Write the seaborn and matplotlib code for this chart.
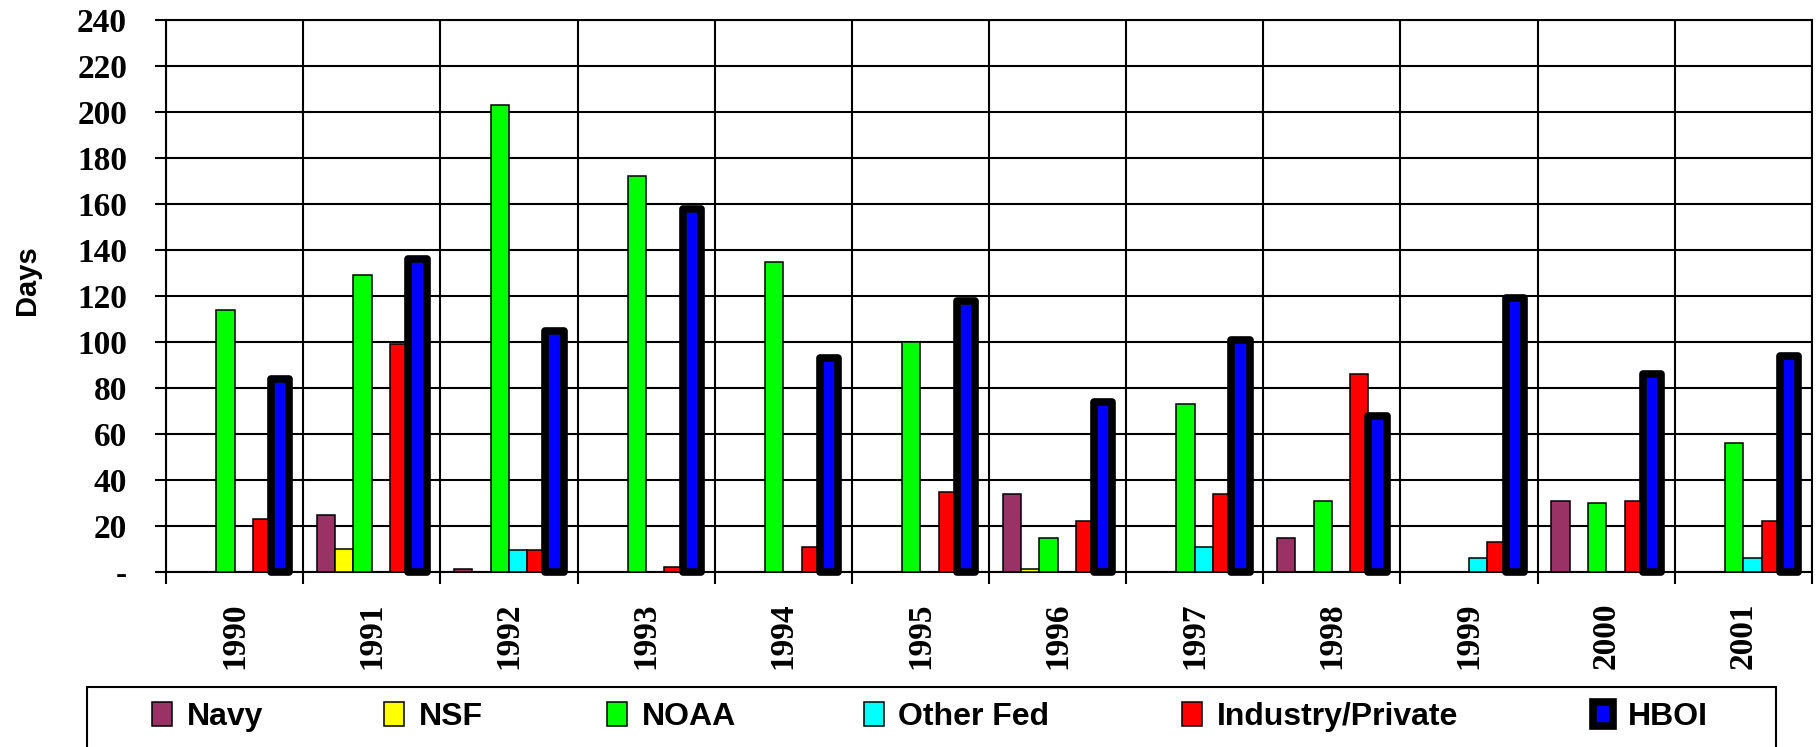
import pandas as pd
import matplotlib
matplotlib.use("Agg")
import matplotlib.pyplot as plt
import matplotlib.patches as mpatches
import seaborn as sns

# ==================================
# DATA
# ==================================

years = ["1990", "1991", "1992", "1993", "1994", "1995",
         "1996", "1997", "1998", "1999", "2000", "2001"]

navy = [0, 25, 1.5, 0, 0, 0, 34, 0, 15, 0, 31, 0]
nsf = [0, 10, 0, 0, 0, 0, 1.5, 0, 0, 0, 0, 0]
noaa = [114, 129, 203, 172, 135, 100, 15, 73, 31, 0, 30, 56]
other_fed = [0, 0, 9.5, 0, 0, 0, 0, 11, 0, 6, 0, 6]
industry = [23, 99, 9.5, 2, 11, 35, 22, 34, 86, 13, 31, 22]
hboi = [84, 136, 105, 158, 93, 118, 74, 101, 68, 119, 86, 94]

sponsors = ["Navy", "NSF", "NOAA", "Other Fed", "Industry/Private", "HBOI"]
colors = ["#993366", "#FFFF00", "#00FF00", "#00FFFF", "#FF0000", "#0000FF"]

y_ticks = [0, 20, 40, 60, 80, 100, 120, 140, 160, 180, 200, 220, 240]
y_tick_labels = ["-", "20", "40", "60", "80", "100", "120", "140",
                 "160", "180", "200", "220", "240"]

rows = []
for name, vals in zip(sponsors, [navy, nsf, noaa, other_fed, industry, hboi]):
    for yr, v in zip(years, vals):
        rows.append({"Year": yr, "Sponsor": name, "Days": v})
df = pd.DataFrame(rows)

# ==================================
# PLOT
# ==================================

sns.set_style("white", rc={"text.color": "black", "axes.labelcolor": "black",
                           "xtick.color": "black", "ytick.color": "black"})

W, H = 1816, 747
fig = plt.figure(figsize=(W / 100, H / 100), dpi=100)
ax = fig.add_axes([166 / W, (H - 572) / H, (1812 - 166) / W, (572 - 20) / H])

sns.barplot(
    data=df, x="Year", y="Days", hue="Sponsor",
    order=years, hue_order=sponsors, palette=colors, saturation=1,
    edgecolor="black", linewidth=1.1, width=0.8,
    legend=False, ax=ax, errorbar=None, zorder=3
)

# thick outline for HBOI bars
for bar in ax.containers[5].patches:
    bar.set_linewidth(5.5)
    bar.set_joinstyle("round")
    bar.set_clip_on(False)

ax.set_xlim(-0.5, 11.5)
ax.set_ylim(0, 240)

ax.set_yticks(y_ticks, y_tick_labels)
ax.set_xticks(range(len(years)), years, rotation=90)
ax.set_xticks([i + 0.5 for i in range(-1, len(years))], minor=True)

ax.grid(False)
ax.yaxis.grid(True, color="black", linewidth=1.5, zorder=0)
ax.xaxis.grid(True, which="minor", color="black", linewidth=1.5, zorder=0)
ax.set_axisbelow(True)

ax.tick_params(axis="x", which="major", length=0, pad=22)
ax.tick_params(axis="x", which="minor", length=8.5, width=1.5,
               direction="out", bottom=True)
ax.tick_params(axis="y", length=8, width=1.5,
               direction="out", left=True, pad=20)

for lab in ax.get_yticklabels() + ax.get_xticklabels():
    lab.set_fontfamily("Liberation Serif")
    lab.set_fontweight("bold")
    lab.set_fontsize(24)

for s in ax.spines.values():
    s.set_color("black")
    s.set_linewidth(1.5)

ax.set_xlabel("")
ax.set_ylabel("")
fig.text(27 / W, (H - 280) / H, "Days", rotation=90, ha="center", va="center",
         fontsize=21, fontweight="bold", fontfamily="Liberation Sans")

# legend box at the bottom
frame = mpatches.Rectangle((87 / W, -0.05), (1776 - 87) / W, (H - 687) / H + 0.05,
                           transform=fig.transFigure, facecolor="white",
                           edgecolor="black", linewidth=1.5)
fig.patches.append(frame)

legend_x = [152, 384, 607, 864, 1182, 1593]
handles = [c.patches[0] for c in ax.containers]
for h, name, lx in zip(handles, sponsors, legend_x):
    fig.legend([h], [name], loc="center left",
               bbox_to_anchor=(lx / W, (H - 717) / H),
               frameon=False, borderpad=0, borderaxespad=0,
               handlelength=0.62, handleheight=0.78, handletextpad=0.46,
               prop={"family": "Liberation Sans", "weight": "bold", "size": 23})

fig.savefig("out.png", dpi=100)
